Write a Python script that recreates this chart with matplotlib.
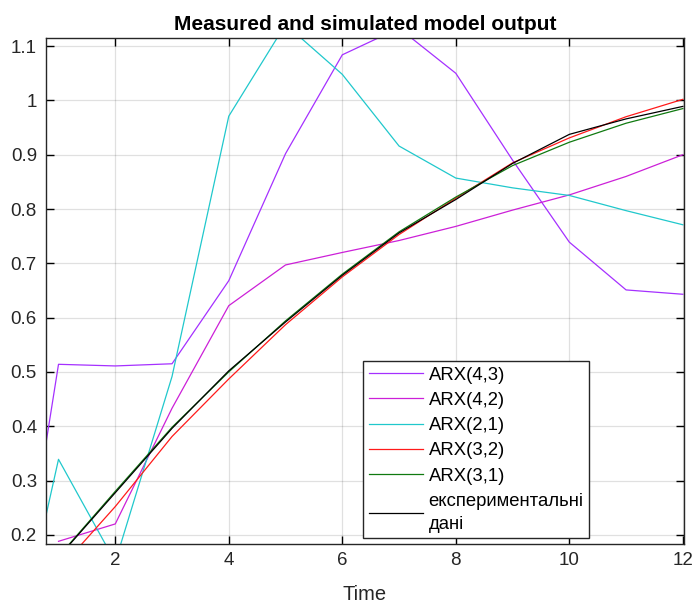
import numpy as np
import matplotlib
matplotlib.use('Agg')
import matplotlib.pyplot as plt

plt.rcParams['font.family'] = ['Liberation Sans', 'DejaVu Sans']

# time steps and model outputs
time = [0, 1, 2, 3, 4, 5, 6, 7, 8, 9, 10, 11, 12]
arx43 = [-0.145, 0.514, 0.511, 0.515, 0.668, 0.902, 1.084, 1.133, 1.050, 0.890, 0.739, 0.651, 0.643]
arx42 = [np.nan, 0.188, 0.220, 0.433, 0.622, 0.697, 0.720, 0.742, 0.768, 0.798, 0.826, 0.860, 0.900]
arx21 = [-0.13, 0.339, 0.150, 0.4915, 0.971, 1.140, 1.048, 0.916, 0.857, 0.839, 0.825, 0.797, 0.771]
arx32 = [np.nan, 0.135, 0.252, 0.381, 0.487, 0.587, 0.675, 0.753, 0.820, 0.885, 0.931, 0.970, 1.002]
arx31 = [np.nan, 0.160, 0.280, 0.398, 0.500, 0.594, 0.680, 0.758, 0.822, 0.880, 0.923, 0.958, 0.985]
measured = [np.nan, 0.159, 0.2775, 0.396, 0.502, 0.592, 0.678, 0.756, 0.8175, 0.884, 0.9375, 0.966, 0.989]

labels = ['ARX(4,3)', 'ARX(4,2)', 'ARX(2,1)', 'ARX(3,2)', 'ARX(3,1)',
          'експериментальні\nдані']
series = [arx43, arx42, arx21, arx32, arx31, measured]
colors = ['#a530ff', '#cc20d8', '#20c8cc', '#ff1a1a', '#107a10', '#000000']

fig = plt.figure(figsize=(6.92, 6.03), dpi=100)
ax = fig.add_axes([0.0665, 0.0978, 0.9219, 0.8392])

for y, lab, c in zip(series, labels, colors):
    ax.plot(time, y, color=c, linewidth=0.9, label=lab)

ax.set_xlim(0.78, 12.02)
ax.set_ylim(0.183, 1.115)
ax.set_xticks([2, 4, 6, 8, 10, 12])
ax.set_yticks([0.2, 0.3, 0.4, 0.5, 0.6, 0.7, 0.8, 0.9, 1.0, 1.1])
ax.set_yticklabels(['0.2', '0.3', '0.4', '0.5', '0.6', '0.7', '0.8', '0.9', '1', '1.1'])
ax.tick_params(direction='in', top=True, right=True, labelsize=13.5,
               labelcolor='#262626', length=6, width=1)
ax.tick_params(axis='x', pad=5.5)
ax.tick_params(axis='y', pad=6.5)
ax.grid(True, color='#000000', alpha=0.12, linewidth=0.9)
for s in ax.spines.values():
    s.set_linewidth(1.0)
    s.set_color('#262626')

ax.set_title('Measured and simulated model output', fontsize=15,
             fontweight='bold', pad=6)
ax.set_xlabel('Time', fontsize=14.5, color='#262626', labelpad=12)

leg = ax.legend(loc='upper left', bbox_to_anchor=(363 / 692, 1 - 361 / 603),
                bbox_transform=fig.transFigure, fontsize=13.3, frameon=True,
                fancybox=False, edgecolor='#262626', framealpha=1,
                handlelength=2.95, handletextpad=0.3, labelspacing=0.45,
                borderpad=0.3, borderaxespad=0)
leg.get_frame().set_linewidth(1.0)
for t in leg.get_texts():
    t.set_linespacing(1.45)

fig.savefig('out.png', dpi=100)
